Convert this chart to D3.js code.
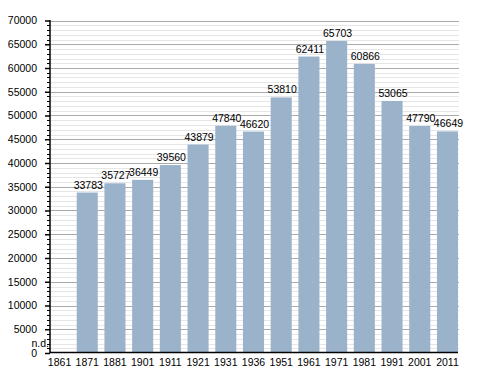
<!DOCTYPE html>
<html>
<head>
<meta charset="utf-8">
<script src="https://cdn.jsdelivr.net/npm/d3@7"></script>
<style>
  body { margin: 0; background: #fff; }
  text { font-family: "Liberation Sans", Arial, sans-serif; font-size: 10.5px; fill: #000; }
</style>
</head>
<body>
<script>
// census years and population (1861 has no data: "n.d.")
var years = ["1861","1871","1881","1901","1911","1921","1931","1936","1951","1961","1971","1981","1991","2001","2011"];
var population = [null,33783,35727,36449,39560,43879,47840,46620,53810,62411,65703,60866,53065,47790,46649];
var yMajor = [0,5000,10000,15000,20000,25000,30000,35000,40000,45000,50000,55000,60000,65000,70000];
var missingLabel = "n.d.";

var w = 488, h = 373;
// plot box (note: "top" is reserved on window, so use plot* names)
var plotL = 50, plotR = 458, plotT = 20.5, plotB = 353;

var svg = d3.select("body").append("svg")
    .attr("width", w)
    .attr("height", h);

var x = d3.scaleBand()
    .domain(years)
    .range([plotL - 1, plotR])
    .paddingInner(0.24)
    .paddingOuter(0);

var y = d3.scaleLinear()
    .domain([0, 70000])
    .range([plotB, plotT]);

// minor gridlines every 1000, major every 5000
var minor = d3.range(0, 70001, 1000).filter(function(v) { return v % 5000 != 0; });
svg.append("g").selectAll("line")
    .data(minor).enter().append("line")
    .attr("x1", plotL).attr("x2", plotR + 1)
    .attr("y1", function(d) { return Math.round(y(d)) + 0.5; })
    .attr("y2", function(d) { return Math.round(y(d)) + 0.5; })
    .style("stroke", "#e6e6e6")
    .style("stroke-width", 1);
svg.append("g").selectAll("line")
    .data(yMajor.filter(function(v) { return v > 0; })).enter().append("line")
    .attr("x1", plotL).attr("x2", plotR + 1)
    .attr("y1", function(d) { return Math.round(y(d)) + 0.5; })
    .attr("y2", function(d) { return Math.round(y(d)) + 0.5; })
    .style("stroke", "#aaaaaa")
    .style("stroke-width", 1);

// bars
var data = years.map(function(yr, i) { return {year: yr, value: population[i]}; });
svg.append("g").selectAll("rect")
    .data(data.filter(function(d) { return d.value != null; }))
    .enter().append("rect")
    .attr("x", function(d) { return x(d.year); })
    .attr("width", x.bandwidth())
    .attr("y", function(d) { return y(d.value); })
    .attr("height", function(d) { return y(0) - y(d.value); })
    .style("fill", "#9bb2cb");

// value labels
svg.append("g").selectAll("text")
    .data(data)
    .enter().append("text")
    .attr("x", function(d) { return d.value == null ? x(d.year) : x(d.year) + x.bandwidth() / 2 + 1; })
    .attr("y", function(d) { return d.value == null ? y(0) - 6 : y(d.value) - 4; })
    .attr("text-anchor", function(d) { return d.value == null ? "end" : "middle"; })
    .text(function(d) { return d.value == null ? missingLabel : d.value; });

// y axis with minor ticks
svg.append("g").selectAll("line")
    .data(minor).enter().append("line")
    .attr("x1", plotL - 3).attr("x2", plotL)
    .attr("y1", function(d) { return Math.round(y(d)) + 0.5; })
    .attr("y2", function(d) { return Math.round(y(d)) + 0.5; })
    .style("stroke", "#000");
var yAxis = d3.axisLeft(y)
    .tickValues(yMajor)
    .tickFormat(function(d) { return d; })
    .tickSize(5)
    .tickPadding(8);
var gy = svg.append("g")
    .attr("transform", "translate(" + plotL + ",0)")
    .call(yAxis);
gy.select(".domain").remove();
gy.selectAll(".tick line").style("stroke", "#000").style("stroke-width", 1.5);
gy.selectAll("text").style("font-family", "Liberation Sans, Arial, sans-serif").style("font-size", "10.5px");
svg.append("line")
    .attr("x1", plotL).attr("x2", plotL)
    .attr("y1", plotT - 0.5).attr("y2", plotB)
    .style("stroke", "#000").style("stroke-width", 1.5);

// x axis
var xAxis = d3.axisBottom(x).tickSize(0).tickPadding(6);
var gx = svg.append("g")
    .attr("transform", "translate(0," + (plotB - 0.5) + ")")
    .call(xAxis);
gx.select(".domain").remove();
gx.selectAll("text").style("font-family", "Liberation Sans, Arial, sans-serif").style("font-size", "10.5px");
svg.append("line")
    .attr("x1", plotL).attr("x2", plotR)
    .attr("y1", plotB - 0.5).attr("y2", plotB - 0.5)
    .style("stroke", "#000").style("stroke-width", 1.5);
</script>
</body>
</html>
